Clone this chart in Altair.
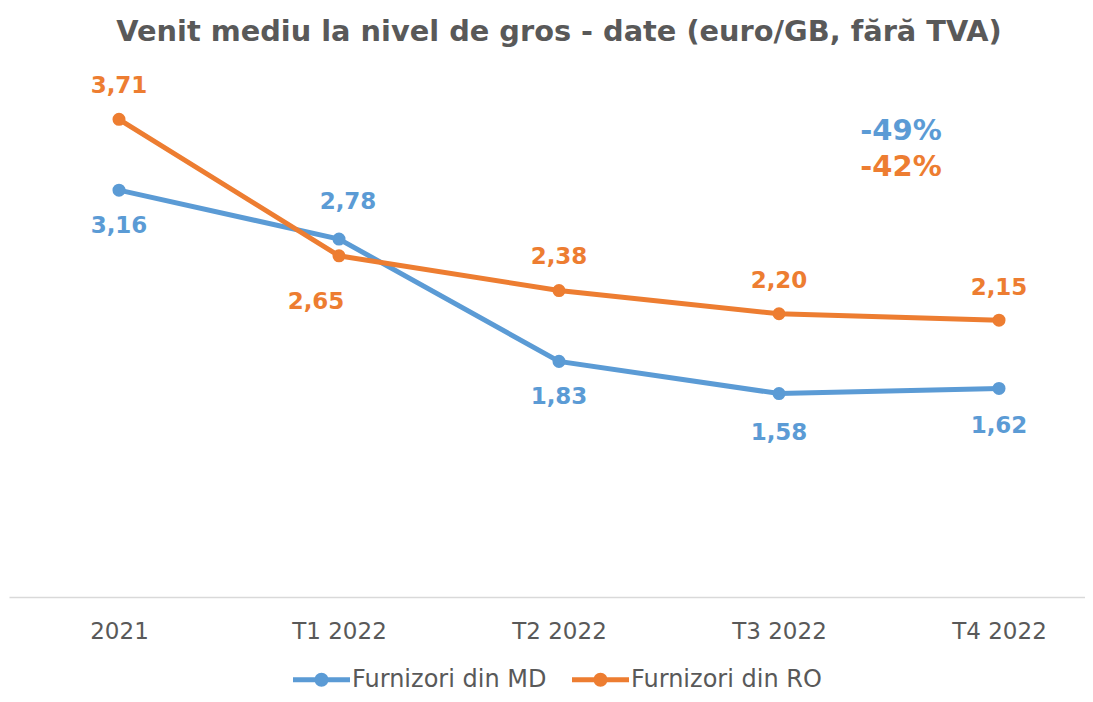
import altair as alt
import pandas as pd

periods = ["2021", "T1 2022", "T2 2022", "T3 2022", "T4 2022"]
md_values = [3.16, 2.78, 1.83, 1.58, 1.62]
ro_values = [3.71, 2.65, 2.38, 2.20, 2.15]
series_names = ["Furnizori din MD", "Furnizori din RO"]
series_colors = ["#5B9BD5", "#ED7D31"]
change_labels = ["-49%", "-42%"]
change_y = [3.62, 3.34]

# label placement (pixels, style only)
md_offsets = [(0, 36), (9, -37), (0, 36), (0, 39), (0, 38)]
ro_offsets = [(0, -33), (-23, 46), (0, -34), (0, -33), (0, -32)]

rows = []
for s, vals in ((series_names[0], md_values), (series_names[1], ro_values)):
    for i, (p, v) in enumerate(zip(periods, vals)):
        rows.append({"idx": i, "period": p, "value": v, "series": s,
                     "label": f"{v:.2f}".replace(".", ",")})
df = pd.DataFrame(rows)

FONT = "DejaVu Sans"
GRAY = "#595959"

label_expr = "[" + ",".join("'" + p + "'" for p in periods) + "][datum.value]"

W = 1076
x_enc = alt.X("idx:Q",
              scale=alt.Scale(domain=[-0.5, -0.5 + W / 220.0], nice=False, zero=False),
              axis=alt.Axis(title=None, labelAngle=0, ticks=False, grid=False,
                            values=list(range(len(periods))), labelExpr=label_expr,
                            domainColor="#D9D9D9", domainWidth=1.5,
                            labelFont=FONT, labelFontSize=23, labelColor=GRAY,
                            labelPadding=23, labelFlush=False, labelOverlap=False))
y_enc = alt.Y("value:Q", scale=alt.Scale(domain=[0, 4], nice=False, zero=True), axis=None)

color_scale = alt.Scale(domain=series_names, range=series_colors)

legend_path = ("M-1,-0.09 L1,-0.09 L1,0.09 L-1,0.09 Z "
               "M0.245,0 A0.245,0.245 0 1,1 -0.245,0 A0.245,0.245 0 1,1 0.245,0 Z")

base = alt.Chart(df)

points = base.mark_circle(size=170, opacity=1).encode(
    x=x_enc, y=y_enc,
    color=alt.Color("series:N", scale=color_scale, sort=series_names,
                    legend=alt.Legend(title=None, orient="none", direction="horizontal",
                                      legendX=284, legendY=569, padding=0,
                                      symbolType=legend_path, symbolSize=3249,
                                      symbolStrokeWidth=0, labelLimit=0,
                                      labelFont=FONT, labelFontSize=24, labelColor=GRAY,
                                      labelOffset=2, columnPadding=25)),
)
lines = base.mark_line(strokeWidth=5).encode(
    x=x_enc, y=y_enc,
    color=alt.Color("series:N", scale=color_scale, sort=series_names),
    order=alt.Order("idx:Q"),
)

layers = [points, lines]

offsets = {series_names[0]: md_offsets, series_names[1]: ro_offsets}
for s, col in zip(series_names, series_colors):
    for i, p in enumerate(periods):
        dx, dy = offsets[s][i]
        sub = df[(df.series == s) & (df.period == p)]
        layers.append(
            alt.Chart(sub).mark_text(font=FONT, fontSize=23, fontWeight="bold",
                                     color=col, dx=dx, dy=dy, baseline="middle")
            .encode(x=x_enc, y=y_enc, text="label:N")
        )

for lab, yv, col in zip(change_labels, change_y, series_colors):
    ann = pd.DataFrame({"idx": [len(periods) - 1], "value": [yv], "label": [lab]})
    layers.append(
        alt.Chart(ann).mark_text(font=FONT, fontSize=29, fontWeight="bold",
                                 color=col, dx=-98, baseline="middle")
        .encode(x=x_enc, y=y_enc, text="label:N")
    )

chart = alt.layer(*layers).properties(
    width=W, height=515,
    title=alt.Title("Venit mediu la nivel de gros - date (euro/GB, fără TVA)",
                    font=FONT, fontSize=28.8, fontWeight="bold", color=GRAY,
                    anchor="middle", baseline="alphabetic", offset=6, dx=12),
    padding={"left": 1, "top": 74, "right": 0, "bottom": 97},
    autosize=alt.AutoSizeParams(type="none"),
).configure_view(stroke=None)

chart.save("out.html", embed_options={"renderer": "svg", "actions": False})
